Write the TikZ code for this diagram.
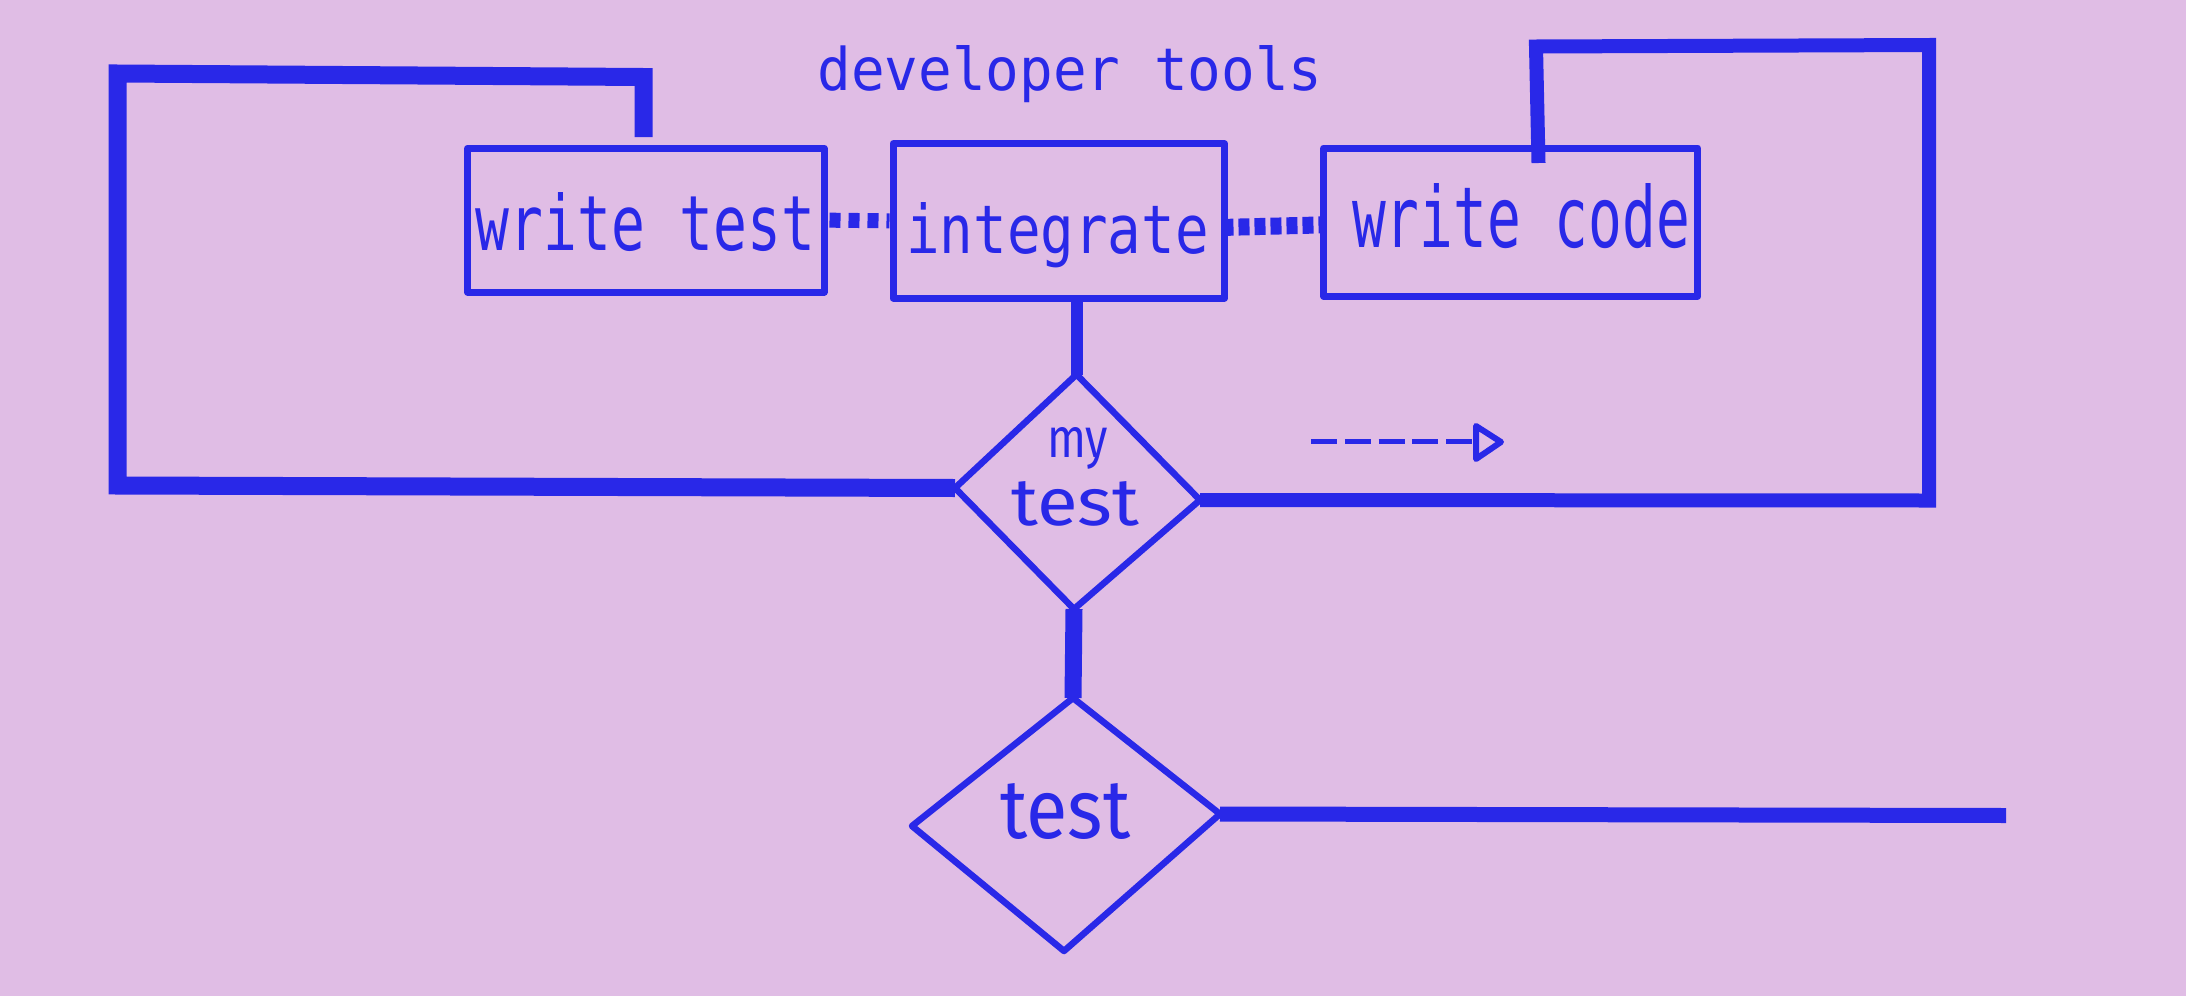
\documentclass[tikz,border=0pt]{standalone}
\usepackage{fontspec}
\usepackage{graphicx}
\newfontfamily\monof{DejaVu Sans Mono}
\newfontfamily\sansf{Fira Sans}
\definecolor{bgc}{RGB}{224,189,229}
\definecolor{inkc}{RGB}{41,40,232}
\tikzset{
  boxn/.style={draw=inkc, line width=3.5pt, rectangle, inner sep=0pt, line join=round},
  dia/.style={draw=inkc, line width=3.25pt, line join=round},
  wire/.style={draw=inkc, line width=#1, line cap=butt, line join=miter},
  lbl/.style={text=inkc, inner sep=0pt, anchor=base},
  dotsa/.style={draw=inkc, line width=7.5pt, dash pattern=on 5.5pt off 4pt, dash phase=8.5pt},
  dotsb/.style={draw=inkc, line width=8.5pt, dash pattern=on 5.5pt off 2.5pt},
  dashw/.style={draw=inkc, line width=2.5pt, dash pattern=on 13pt off 3.875pt},
  tipline/.style={draw=inkc, line width=3pt, line join=round},
}
\begin{document}
\begin{tikzpicture}[x=0.5pt,y=-0.5pt]
\fill[bgc] (0,0) rectangle (2186,996);
\useasboundingbox (0,0) rectangle (2186,996);

% coordinates
\coordinate (mtT) at (1076.5,374.5);
\coordinate (mtL) at (955,488);
\coordinate (mtR) at (1200,500);
\coordinate (mtB) at (1074,609);
\coordinate (tT) at (1073,698);
\coordinate (tL) at (912,826);
\coordinate (tR) at (1220,814);
\coordinate (tB) at (1064,951);
\coordinate (wtstub) at (643.5,137);
\coordinate (wcstub) at (1538.5,163);
\coordinate (tend) at (2006,815.5);
\coordinate (da1) at (1311,441.7);
\coordinate (da2) at (1472,441.7);

% boxes
\node[boxn, minimum width=178.25pt, minimum height=71.85pt] (wt) at (645.75,220.15) {};
\node[boxn, minimum width=165.75pt, minimum height=77.15pt] (int) at (1058.75,220.85) {};
\node[boxn, minimum width=187pt, minimum height=74.15pt] (wc) at (1510.75,222.15) {};

% connectors
\draw[wire=9pt] (mtL) -- (117.5,485.5) -- (117.5,73.5) -- (643.5,77) -- (wtstub);
\draw[wire=7pt] (mtR) -- (1929,500.5) -- (1929,45) -- (1536,46.5) -- (wcstub);
\draw[wire=6pt] (int.south -| mtT) -- (mtT);
\draw[wire=8.5pt] (mtB) -- (tT);
\draw[wire=7.5pt] (tR) -- (tend);
\draw[dotsa] (wt.east) -- (int.west);
\draw[dotsb] ([xshift=-2.75pt,yshift=-3.3pt]int.east) -- ([yshift=-1.4pt]wc.west);

% diamonds
\draw[dia] (mtT) -- (mtR) -- (mtB) -- (mtL) -- cycle;
\draw[dia] (tT) -- (tR) -- (tB) -- (tL) -- cycle;

% dashed arrow
\draw[dashw] (da1) -- (da2);
\draw[tipline] ([xshift=2pt,yshift=7.85pt]da2) -- ([xshift=14.5pt,yshift=-0.15pt]da2) -- ([xshift=2pt,yshift=-8.65pt]da2) -- cycle;

% labels
\node[lbl] (title) at (1070,90) {\resizebox{252.5pt}{22.5pt}{\monof developer tools}};
\node[lbl] (wtlab) at (645.5,250) {\resizebox{169.5pt}{29pt}{\monof write test}};
\node[lbl] (intlab) at (1057.5,253) {\resizebox{151.25pt}{25.5pt}{\monof integrate}};
\node[lbl] (wclab) at (1521,247) {\resizebox{169pt}{32pt}{\monof write code}};
\node[lbl] (mtmy) at (1077.5,457) {\resizebox{30.5pt}{15pt}{\sansf my}};
\node[lbl] (mttest) at (1075.5,525) {\resizebox{64pt}{22pt}{\sansf test}};
\node[lbl] (ttest) at (1065.5,838) {\resizebox{65pt}{27.5pt}{\sansf test}};
\end{tikzpicture}
\end{document}
